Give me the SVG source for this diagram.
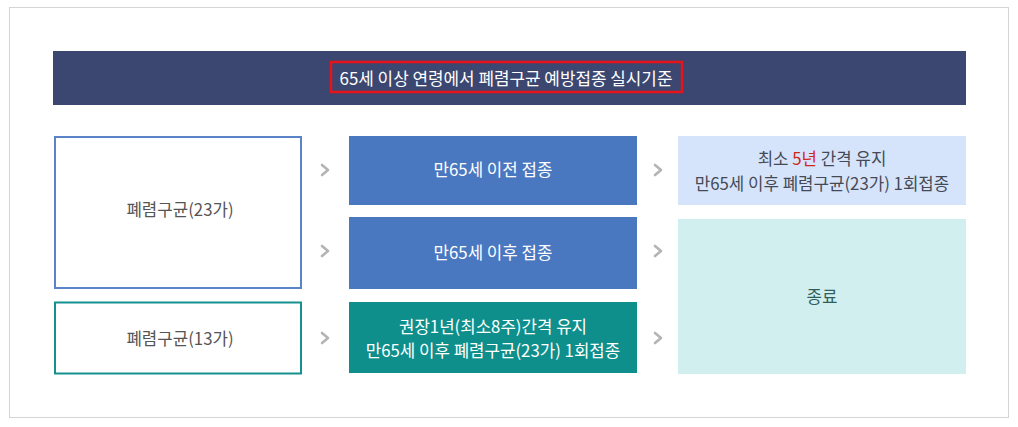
<svg xmlns="http://www.w3.org/2000/svg" width="1018" height="427" viewBox="0 0 1018 427">
<style>
text{font-family:"Noto Sans CJK KR","Noto Sans",sans-serif;font-size:16.8px;text-anchor:middle;dominant-baseline:central}
.w{fill:#ffffff}
.g{fill:#555555}
.d{fill:#444a55}
.chev{fill:none;stroke:#b4b4b4;stroke-width:2.6;stroke-linecap:round;stroke-linejoin:round}
</style>
<defs>
<path id="chev" class="chev" d="M-3,-5 L3,0 L-3,5"/>
</defs>
<rect x="0" y="0" width="1018" height="427" fill="#ffffff"/>
<rect x="9.5" y="7.5" width="999" height="410" fill="#ffffff" stroke="#d4d4d4" stroke-width="1"/>
<g id="header">
<rect x="53" y="51" width="913" height="54" fill="#3b4770"/>
<rect x="331" y="62" width="351" height="30" fill="none" stroke="#e8121b" stroke-width="2.5"/>
<text class="w" x="506" y="77" style="font-size:16.9px">65세 이상 연령에서 폐렴구균 예방접종 실시기준</text>
</g>
<g id="n23">
<rect x="55" y="137" width="246" height="151" fill="#ffffff" stroke="#5b83c8" stroke-width="2"/>
<text class="g" x="180" y="209">폐렴구균(23가)</text>
</g>
<g id="n13">
<rect x="55" y="302.5" width="246" height="71" fill="#ffffff" stroke="#14918f" stroke-width="2"/>
<text class="g" x="180" y="338">폐렴구균(13가)</text>
</g>
<g id="before65">
<rect x="349" y="136" width="288" height="69" fill="#4a78c0"/>
<text class="w" x="493" y="169">만65세 이전 접종</text>
</g>
<g id="after65">
<rect x="349" y="217" width="288" height="72" fill="#4a78c0"/>
<text class="w" x="493" y="252">만65세 이후 접종</text>
</g>
<g id="interval1">
<rect x="349" y="302" width="288" height="71" fill="#0e8f8c"/>
<text class="w" x="493" y="326">권장1년(최소8주)간격 유지</text>
<text class="w" x="493" y="350">만65세 이후 폐렴구균(23가) 1회접종</text>
</g>
<g id="interval5">
<rect x="678" y="136" width="288" height="69" fill="#d6e4fb"/>
<text class="d" x="822" y="158">최소 <tspan fill="#d0281c">5년</tspan> 간격 유지</text>
<text class="d" x="822" y="183">만65세 이후 폐렴구균(23가) 1회접종</text>
</g>
<g id="end">
<rect x="678" y="219" width="288" height="155" fill="#d2efef"/>
<text x="822" y="296" fill="#2f5f5c">종료</text>
</g>
<g id="connectors">
<use href="#chev" x="325" y="170"/>
<use href="#chev" x="325" y="251"/>
<use href="#chev" x="325" y="338"/>
<use href="#chev" x="658" y="170"/>
<use href="#chev" x="658" y="251"/>
<use href="#chev" x="658" y="338"/>
</g>
</svg>
